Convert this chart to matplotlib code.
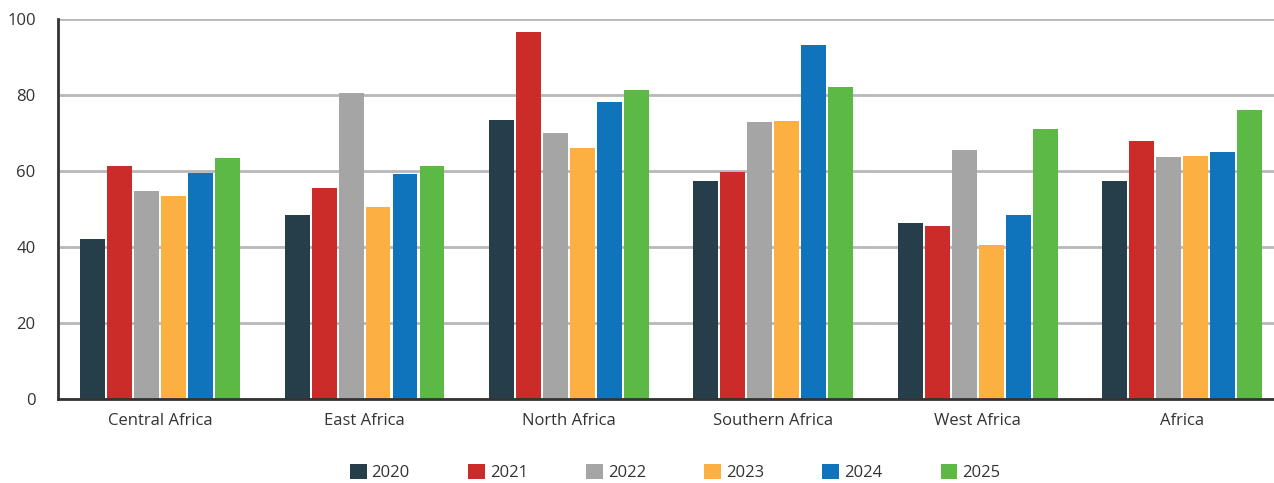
import numpy as np
import matplotlib.pyplot as plt

regions = ['Central Africa', 'East Africa', 'North Africa', 'Southern Africa', 'West Africa', 'Africa']
years = ['2020', '2021', '2022', '2023', '2024', '2025']

v2020 = [42.2, 48.3, 73.4, 57.3, 46.4, 57.3]
v2021 = [61.2, 55.4, 96.6, 59.6, 45.4, 67.8]
v2022 = [54.6, 80.5, 69.9, 72.8, 65.4, 63.6]
v2023 = [53.5, 50.6, 66.0, 73.1, 40.6, 63.9]
v2024 = [59.4, 59.1, 78.1, 93.2, 48.3, 65.1]
v2025 = [63.3, 61.2, 81.3, 82.1, 71.0, 76.0]

colors = ['#263D4A', '#CB2C2A', '#A5A5A5', '#FDB042', '#0F74BC', '#5DB946']

plt.rcParams['font.family'] = ['Open Sans', 'DejaVu Sans']

fig = plt.figure(figsize=(12.74, 4.83), dpi=100)
ax = fig.add_axes([0.0455, 0.1745, 0.9545, 0.786])

x = np.arange(len(regions))
pitch = 0.132
width = 0.122
series = [v2020, v2021, v2022, v2023, v2024, v2025]
for i, vals in enumerate(series):
    ax.bar(x + (i - 2.5) * pitch, vals, width, color=colors[i], label=years[i], zorder=3)

ax.set_ylim(0, 100)
ax.set_xlim(-0.5, 5.45)
ax.set_yticks([0, 20, 40, 60, 80, 100])
ax.yaxis.grid(True, color='#B8B8BA', linewidth=2, zorder=0)
ax.set_axisbelow(True)
ax.set_xticks(x)
ax.set_xticklabels(regions, fontsize=12, color='#333333')
ax.tick_params(axis='y', labelsize=12, colors='#333333', length=0, pad=16)
ax.tick_params(axis='x', length=0, pad=10)
for lab in ax.get_yticklabels():
    lab.set_horizontalalignment('right')

ax.spines['top'].set_visible(False)
ax.spines['right'].set_visible(False)
ax.spines['left'].set_color('#333333')
ax.spines['left'].set_linewidth(2)
ax.spines['bottom'].set_color('#333333')
ax.spines['bottom'].set_linewidth(2)
ax.spines['left'].set_zorder(4)
ax.spines['bottom'].set_zorder(4)

leg = fig.legend(loc='center', bbox_to_anchor=(0.53, 0.022), ncol=6, frameon=False,
                 fontsize=12, handlelength=1.0, handleheight=1.0, handletextpad=0.3,
                 columnspacing=3.5, borderpad=0.1)
for t in leg.get_texts():
    t.set_color('#333333')

fig.savefig('out.png', dpi=100)
